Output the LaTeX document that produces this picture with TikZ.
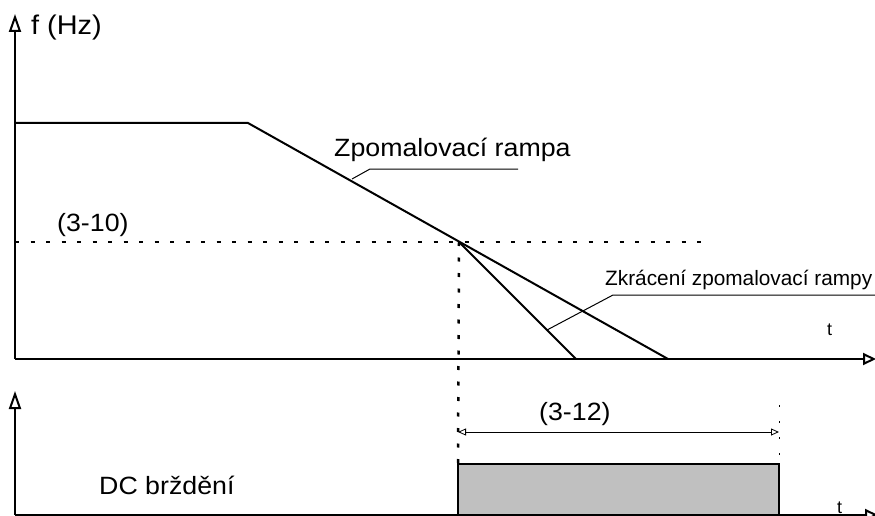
\documentclass[tikz,border=0pt]{standalone}
\usepackage{fontspec}
\setmainfont{Liberation Sans}
\newfontfamily\widefont[FakeStretch=1.07]{Liberation Sans}
\usetikzlibrary{arrows.meta}
\definecolor{boxgray}{RGB}{192,192,192}

\begin{document}
\begin{tikzpicture}[x=1pt,y=-1pt,
        vaxis/.style={black, line width=2pt, -{Triangle[open,length=18pt,width=12pt]}},
        haxis/.style={black, line width=2pt, -{Triangle[open,length=13pt,width=12pt]}},
        ramp/.style={black, line width=2pt},
        leader/.style={black, line width=1pt},
        dots/.style={black, line width=2.5pt, dash pattern=on 4pt off 11.5pt},
        bigtext/.style={inner sep=0pt, font=\widefont\fontsize{25}{30}\selectfont},
        smalltext/.style={inner sep=0pt, font=\fontsize{20.8}{24}\selectfont},
        ttext/.style={inner sep=0pt, font=\fontsize{18}{21}\selectfont}]
                      \useasboundingbox (0,0) rectangle (875,516);

                      % upper graph
                      \coordinate (o1) at (15,359);
                      \draw[vaxis] (o1) -- (15,14);
                      \draw[haxis] (o1) -- (876,359);
                      \node[bigtext, font=\widefont\fontsize{27}{32}\selectfont, anchor=base west] (fhz) at (31,35) {f (Hz)};
                      \node[ttext, anchor=base west] (t1) at (827,335) {t};

                      \coordinate (start) at (15,123);
                      \coordinate (bend) at (248,123);
                      \coordinate (cross) at (459,242);
                      \coordinate (end1) at (668,359);
                      \coordinate (end2) at (576,359);
                      \draw[dots] (15,242) -- (705,242);
                      \draw[ramp] (start) -- (bend) -- (end1);
                      \draw[ramp] (cross) -- (end2);

                      \node[bigtext, anchor=base west] (dec) at (334,157) {Zpomalovací rampa};
                      \draw[leader] (352,179) -- (370,169) -- (518,169);
                      \node[bigtext, anchor=base west] (p310) at (57,231) {(3-10)};
                      \node[smalltext, anchor=base west] (short) at (605,285) {Zkrácení zpomalovací rampy};
                      \draw[leader] (547,330) -- (613,295) -- (875,295);

                      % lower graph
                      \coordinate (o2) at (15,515);
                      \draw[vaxis] (o2) -- (15,391);
                      \filldraw[fill=boxgray, draw=black, line width=2pt] (458,464) rectangle (779,515);
                      \draw[haxis] (o2) -- (878,515);
                      \node[bigtext, anchor=base west] (dc) at (99,494) {DC brždění};
                      \node[ttext, anchor=base west] (t2) at (837,513) {t};

                      \draw[dots] (cross) -- (458,464);
                      \draw[black, line width=1pt, dash pattern=on 2pt off 14pt] (779,405) -- (779,464);
                      \draw[black, line width=0.8pt, {Triangle[open,length=8pt,width=7pt]}-{Triangle[open,length=8pt,width=7pt]}] (458,432) -- (779,432);
                      \node[bigtext, anchor=base west] (p312) at (539,420) {(3-12)};

                  \end{tikzpicture}
\end{document}
